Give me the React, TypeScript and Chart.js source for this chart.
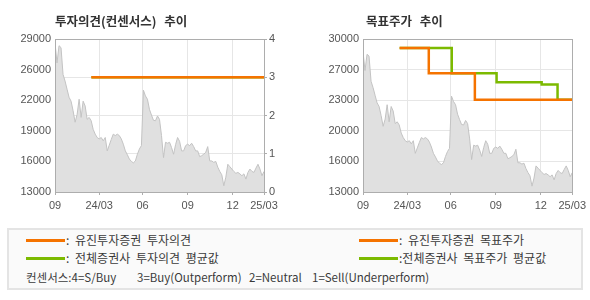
import React, { useEffect, useRef } from "react";
import { Chart, registerables } from "chart.js";

Chart.register(...registerables);

// x values are sample indices of the price series (left edge = 0, right edge = 104)
const xTickAt = [0, 22, 43.6, 66, 88.4, 104];
const xTickLabels = ["09", "24/03", "06", "09", "12", "25/03"];

const prices = [
  28600, 26500, 28300, 28100, 25300, 24600, 23750, 22900, 22500, 21500,
  20300, 21100, 22700, 20800, 22500, 22000, 20600, 20800, 20450, 19550,
  19050, 18700, 18550, 18700, 18350, 18700, 17300, 17900, 18500, 19050,
  18900, 19050, 18900, 18550, 18000, 17300, 16900, 16450, 16200, 16050,
  16250, 16950, 17500, 17850, 23650, 23050, 22700, 21650, 21050, 20500,
  20450, 20950, 20600, 18900, 16600, 18200, 18100, 18200, 17650, 16950,
  17950, 18700, 18300, 17300, 17300, 17850, 18000, 17850, 18100, 17750,
  17300, 17300, 16700, 16800, 16950, 17150, 17750, 16250, 16250, 16100,
  16200, 15600, 15150, 14800, 13650, 14550, 15900, 15650, 15400, 15150,
  14950, 15050, 14900, 14700, 14900, 14350, 15050, 15400, 15150, 15050,
  15500, 15900, 15400, 14700, 15150,
];

const opinionPriceTicks = ["13000", "16000", "19000", "22000", "26000", "29000"];
const opinionScoreTicks = ["0", "1", "2", "3", "4"];
const targetPriceTicks = ["13000", "16000", "20000", "23000", "27000", "30000"];

const eugeneOpinionAt = [18.1, 104];
const eugeneOpinion = [3, 3];
const avgOpinionAt = [18.1, 104];
const avgOpinion = [3, 3];

const eugeneTargetAt = [18.2, 32.7, 55.6, 104];
const eugeneTarget = [29000, 26200, 23250, 23250];
const avgTargetAt = [18.2, 44.1, 66.4, 88.8, 96.7, 104];
const avgTarget = [29000, 26200, 25200, 24950, 23250, 23250];

const ORANGE = "#f57300";
const GREEN = "#7cba00";
const GRID = "#e6e6e6";
const FRAME = "#adadad";
const TICK_TEXT = "#555555";
const tickFont = { family: "'Liberation Sans', Arial, sans-serif", size: 11 };
const KR = "'Noto Sans CJK KR', 'Noto Sans', sans-serif";

const evenTicks = (min: number, max: number, n: number) =>
  Array.from({ length: n }, (_, i) => ({ value: min + ((max - min) * i) / (n - 1) }));

const framePlugin = {
  id: "frame",
  afterDatasetsDraw(chart: any) {
    const { ctx, chartArea: a } = chart;
    ctx.save();
    ctx.strokeStyle = FRAME;
    ctx.lineWidth = 1;
    const l = Math.round(a.left) + 0.5;
    const t = Math.round(a.top) + 0.5;
    const r = Math.round(a.right) + 0.5;
    const b = Math.round(a.bottom) + 0.5;
    ctx.strokeRect(l, t, r - l, b - t);
    ctx.restore();
  },
};

const pts = (xs: number[], ys: number[]) => xs.map((x, i) => ({ x, y: ys[i] }));

function priceDataset() {
  return {
    data: prices.map((p, i) => ({ x: i, y: p })),
    fill: "start",
    backgroundColor: "#e0e0e0",
    borderColor: "#c3c3c3",
    borderWidth: 1,
    pointRadius: 0,
    tension: 0,
    yAxisID: "y",
  };
}

function stepDataset(xs: number[], ys: number[], color: string, axis: string) {
  return {
    data: pts(xs, ys),
    stepped: true,
    fill: false,
    borderColor: color,
    backgroundColor: color,
    borderWidth: 2.5,
    pointRadius: 0,
    yAxisID: axis,
  };
}

function xScale() {
  return {
    type: "linear",
    min: 0,
    max: 104,
    afterBuildTicks: (s: any) => {
      s.ticks = xTickAt.map((v) => ({ value: v }));
    },
    afterFit: (s: any) => {
      s.height = 23;
    },
    grid: { color: GRID, tickColor: FRAME, tickLength: 3, drawTicks: true },
    border: { display: false },
    ticks: {
      autoSkip: false,
      maxRotation: 0,
      padding: 4,
      color: TICK_TEXT,
      font: tickFont,
      callback: (_v: any, i: number) => xTickLabels[i],
    },
  };
}

function opinionConfig(): any {
  return {
    type: "line",
    data: {
      datasets: [
        stepDataset(eugeneOpinionAt, eugeneOpinion, ORANGE, "y1"),
        stepDataset(avgOpinionAt, avgOpinion, GREEN, "y1"),
        priceDataset(),
      ],
    },
    options: {
      animation: false,
      responsive: false,
      devicePixelRatio: 1,
      layout: { padding: { top: 39, left: 0, right: 0, bottom: 0 } },
      plugins: { legend: { display: false }, tooltip: { enabled: false }, title: { display: false } },
      scales: {
        x: xScale(),
        y: {
          type: "linear",
          position: "left",
          min: 13000,
          max: 29000,
          afterBuildTicks: (s: any) => {
            s.ticks = evenTicks(13000, 29000, opinionPriceTicks.length);
          },
          afterFit: (s: any) => {
            s.width = 55;
          },
          grid: { display: false, drawTicks: false },
          border: { display: false },
          ticks: {
            padding: 4,
            color: TICK_TEXT,
            font: tickFont,
            callback: (_v: any, i: number) => opinionPriceTicks[i],
          },
        },
        y1: {
          type: "linear",
          position: "right",
          min: 0,
          max: 4,
          afterBuildTicks: (s: any) => {
            s.ticks = evenTicks(0, 4, opinionScoreTicks.length);
          },
          afterFit: (s: any) => {
            s.width = 31;
          },
          grid: { color: GRID, tickColor: FRAME, tickLength: 3, drawTicks: true, drawOnChartArea: true },
          border: { display: false },
          ticks: {
            padding: 2,
            color: TICK_TEXT,
            font: tickFont,
            callback: (_v: any, i: number) => opinionScoreTicks[i],
          },
        },
      },
    },
    plugins: [framePlugin],
  };
}

function targetConfig(): any {
  return {
    type: "line",
    data: {
      datasets: [
        stepDataset(eugeneTargetAt, eugeneTarget, ORANGE, "y"),
        stepDataset(avgTargetAt, avgTarget, GREEN, "y"),
        priceDataset(),
      ],
    },
    options: {
      animation: false,
      responsive: false,
      devicePixelRatio: 1,
      layout: { padding: { top: 39, left: 0, right: 17, bottom: 0 } },
      plugins: { legend: { display: false }, tooltip: { enabled: false }, title: { display: false } },
      scales: {
        x: xScale(),
        y: {
          type: "linear",
          position: "left",
          min: 13000,
          max: 30000,
          afterBuildTicks: (s: any) => {
            s.ticks = evenTicks(13000, 30000, targetPriceTicks.length);
          },
          afterFit: (s: any) => {
            s.width = 68;
          },
          grid: { color: GRID, drawTicks: false, drawOnChartArea: true },
          border: { display: false },
          ticks: {
            padding: 4,
            color: TICK_TEXT,
            font: tickFont,
            callback: (_v: any, i: number) => targetPriceTicks[i],
          },
        },
      },
    },
    plugins: [framePlugin],
  };
}

const legendText: React.CSSProperties = {
  position: "absolute",
  fontFamily: KR,
  fontSize: 12,
  lineHeight: "16px",
  color: "#3a3a3a",
  whiteSpace: "pre",
  wordSpacing: 3,
};

const noteText: React.CSSProperties = {
  ...legendText,
  fontSize: 11.5,
  wordSpacing: 0,
};

function Swatch({ left, top, color }: { left: number; top: number; color: string }) {
  return (
    <div
      style={{ position: "absolute", left, top, width: 39, height: 3, background: color }}
    />
  );
}

export default function App() {
  const leftRef = useRef<HTMLCanvasElement | null>(null);
  const rightRef = useRef<HTMLCanvasElement | null>(null);

  useEffect(() => {
    const c1 = new Chart(leftRef.current as HTMLCanvasElement, opinionConfig());
    const c2 = new Chart(rightRef.current as HTMLCanvasElement, targetConfig());
    return () => {
      c1.destroy();
      c2.destroy();
    };
  }, []);

  const titleStyle: React.CSSProperties = {
    position: "absolute",
    top: 13,
    fontFamily: KR,
    fontSize: 12.5,
    fontWeight: "bold",
    lineHeight: "16px",
    color: "#333333",
    whiteSpace: "pre",
    wordSpacing: 5,
  };

  return (
    <div style={{ position: "absolute", left: 0, top: 0, width: 590, height: 300, background: "#ffffff", overflow: "hidden" }}>
      <canvas ref={leftRef} width={295} height={215} style={{ position: "absolute", left: 0, top: 0 }} />
      <canvas ref={rightRef} width={295} height={215} style={{ position: "absolute", left: 295, top: 0 }} />
      <div style={{ ...titleStyle, left: 55 }}>투자의견(컨센서스) 추이</div>
      <div style={{ ...titleStyle, left: 366 }}>목표주가 추이</div>

      <div
        style={{
          position: "absolute",
          left: 7,
          top: 228,
          width: 576,
          height: 62,
          boxSizing: "border-box",
          border: "2px solid #e4e4e4",
          background: "#fafafa",
        }}
      />
      <Swatch left={26} top={239} color={ORANGE} />
      <div style={{ ...legendText, left: 66, top: 232 }}>: 유진투자증권 투자의견</div>
      <Swatch left={26} top={257} color={GREEN} />
      <div style={{ ...legendText, left: 66, top: 250 }}>: 전체증권사 투자의견 평균값</div>
      <Swatch left={359} top={239} color={ORANGE} />
      <div style={{ ...legendText, left: 399, top: 232 }}>: 유진투자증권 목표주가</div>
      <Swatch left={359} top={257} color={GREEN} />
      <div style={{ ...legendText, left: 399, top: 250 }}>:전체증권사 목표주가 평균값</div>

      <div style={{ ...noteText, left: 26, top: 269 }}>컨센서스:4=S/Buy</div>
      <div style={{ ...noteText, left: 137, top: 269 }}>3=Buy(Outperform)</div>
      <div style={{ ...noteText, left: 249, top: 269 }}>2=Neutral</div>
      <div style={{ ...noteText, left: 312, top: 269 }}>1=Sell(Underperform)</div>
    </div>
  );
}
